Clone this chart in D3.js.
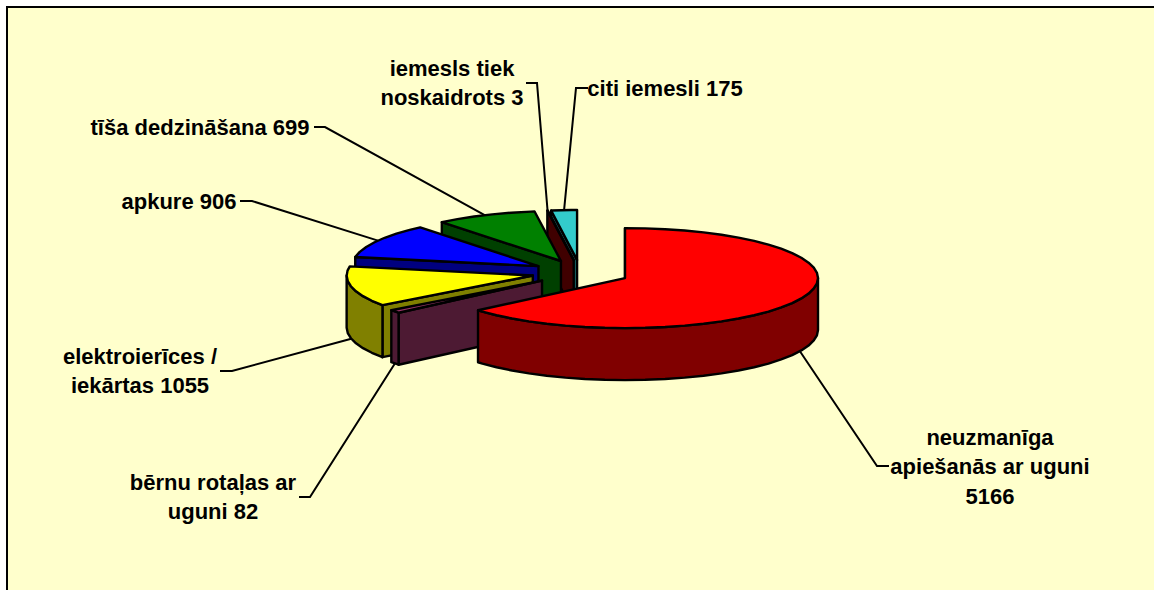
<!DOCTYPE html>
<html>
<head>
<meta charset="utf-8">
<script src="https://cdn.jsdelivr.net/npm/d3@7"></script>
<style>
    html, body { margin: 0; padding: 0; background: #fff; overflow: hidden; }
    text { font-family: "Liberation Sans", Arial, sans-serif; font-weight: bold; font-size: 22px; fill: #000; }
</style>
</head>
<body>
<div id="chart"></div>
<script>
// slices, clockwise from 12 o'clock
var causes = ['neuzmanīga apiešanās ar uguni', 'bērnu rotaļas ar uguni', 'elektroierīces / iekārtas',
              'apkure', 'tīša dedzināšana', 'iemesls tiek noskaidrots', 'citi iemesli'];
var counts = [5166, 82, 1055, 906, 699, 3, 175];
var topColors  = ['#ff0000', '#993366', '#ffff00', '#0000ff', '#008000', '#800000', '#33cccc'];
var wallColors = ['#800000', '#4d1a33', '#808000', '#000080', '#004000', '#400000', '#1a6666'];

// label lines, same order as the slices
var labelLines = [
    ['neuzmanīga', 'apiešanās ar uguni', '5166'],
    ['bērnu rotaļas ar', 'uguni 82'],
    ['elektroierīces /', 'iekārtas 1055'],
    ['apkure 906'],
    ['tīša dedzināšana 699'],
    ['iemesls tiek', 'noskaidrots 3'],
    ['citi iemesli 175']
];

// where the labels sit and where their leader lines bend
var labelLayout = [
    {x: 990, y: 437, from: [889, 466], elbow: [877, 466]},
    {x: 213, y: 482, from: [299, 497], elbow: [310, 497]},
    {x: 140, y: 356, from: [220, 371], elbow: [232, 371]},
    {x: 179, y: 201, from: [240, 201], elbow: [252, 201]},
    {x: 200, y: 127, from: [314, 127], elbow: [325, 127]},
    {x: 452, y: 68,  from: [526, 83],  elbow: [537, 83]},
    {x: 665, y: 88,  from: [588, 88],  elbow: [576, 88]}
];

function main(){
    var width = 1154, height = 590;
    var lineGap = 29.5;
    var depth = 52;       // height of the pie walls
    var explode = 0.255;  // slice offset, in radii
    var step = Math.PI / 30;

    var svg = d3.select('#chart').append('svg')
                .attr('width', width)
                .attr('height', height)
                .style('display', 'block');

    // chart area, runs off the right and bottom of the page
    svg.append('rect')
       .attr('x', 7).attr('y', 7)
       .attr('width', width + 10).attr('height', height + 10)
       .attr('fill', '#ffffcc')
       .attr('stroke', '#000')
       .attr('stroke-width', 2);

    // flattened pie: unit circle -> screen, left side slightly narrower
    var px = d3.scaleLinear().domain([-1, -0.535, 0, 1]).range([392.4, 478, 580.4, 773.4]);
    var py = d3.scaleLinear().domain([-1, 1]).range([222.7, 322.7]);

    var slices = d3.pie().sort(null)(counts);
    var line = d3.line();

    function apex(d){
        var mid = (d.startAngle + d.endAngle) / 2;
        return [explode * Math.sin(mid), -explode * Math.cos(mid)];
    }
    function point(d, angle, z){
        var a = apex(d);
        return [px(a[0] + Math.sin(angle)), py(a[1] - Math.cos(angle)) + z];
    }
    function centre(d, z){
        var a = apex(d);
        return [px(a[0]), py(a[1]) + z];
    }
    function rim(d, a0, a1, z){
        var pts = d3.range(a0, a1, step).map((t) => { return point(d, t, z); });
        pts.push(point(d, a1, z));
        return pts;
    }

    function drawPoly(pts, fill){
        svg.append('path')
           .attr('d', line(pts) + 'Z')
           .attr('fill', fill)
           .attr('stroke', '#000')
           .attr('stroke-width', 2.4)
           .attr('stroke-linejoin', 'round');
    }

    // back to front: citi iemesli first, the big red slice last
    for(let i = slices.length - 1; i >= 0; i--){
        let d = slices[i];

        // cut face on the start side
        drawPoly([centre(d, 0), point(d, d.startAngle, 0), point(d, d.startAngle, depth), centre(d, depth)], wallColors[i]);

        // outer wall, only the part that faces the viewer
        let a0 = Math.max(d.startAngle, Math.PI / 2),
            a1 = Math.min(d.endAngle, Math.PI * 1.5);
        if(a1 > a0){
            drawPoly(rim(d, a0, a1, 0).concat(rim(d, a0, a1, depth).reverse()), wallColors[i]);
        }

        // top
        drawPoly([centre(d, 0)].concat(rim(d, d.startAngle, d.endAngle, 0)), topColors[i]);
    }

    // leader lines end on the rim at the middle of the slice
    slices.forEach((d, i) => {
        var mid = (d.startAngle + d.endAngle) / 2;
        var isFront = Math.cos(mid) < 0;
        var end = point(d, mid, isFront ? depth : 0);
        svg.append('path')
           .attr('d', line([labelLayout[i].from, labelLayout[i].elbow, end]))
           .attr('fill', 'none')
           .attr('stroke', '#000')
           .attr('stroke-width', 2);
    });

    // labels
    labelLines.forEach((lines, i) => {
        svg.append('g').selectAll('text')
           .data(lines)
         .enter().append('text')
           .attr('x', labelLayout[i].x)
           .attr('y', (d, j) => { return labelLayout[i].y + j * lineGap; })
           .attr('dy', '0.35em')
           .attr('text-anchor', 'middle')
           .text((d) => { return d; });
    });
}

main();
</script>
</body>
</html>
